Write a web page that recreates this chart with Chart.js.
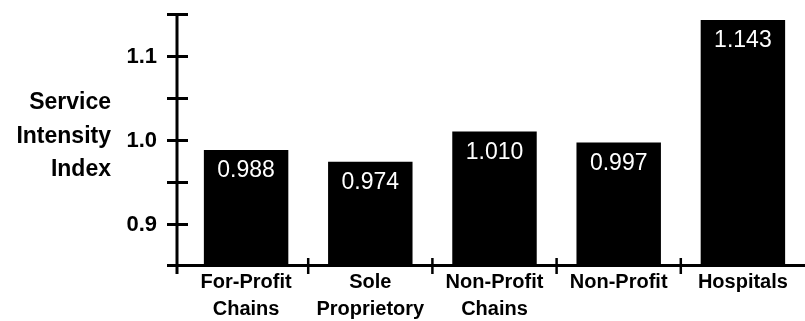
<!DOCTYPE html>
<html>
<head>
<meta charset="utf-8">
<script src="https://cdn.jsdelivr.net/npm/chart.js@4/dist/chart.umd.min.js"></script>
<style>
  html, body { margin: 0; padding: 0; background: #fff; }
  #wrap { width: 805px; height: 321px; }
</style>
</head>
<body>
<div id="wrap"><canvas id="c" width="805" height="321"></canvas></div>
<script>
const categories = [
  ["For-Profit", "Chains"],
  ["Sole", "Proprietory"],
  ["Non-Profit", "Chains"],
  ["Non-Profit"],
  ["Hospitals"]
];
const values = [0.988, 0.974, 1.010, 0.997, 1.143];
const valueLabels = ["0.988", "0.974", "1.010", "0.997", "1.143"];
const yTickLabels = [0.9, 1.0, 1.1];
const yTitleLines = ["Service", "Intensity", "Index"];

const FONT = '"Liberation Sans", Arial, sans-serif';

const axesPlugin = {
  id: 'axesPlugin',
  afterDatasetsDraw(chart) {
    const ctx = chart.ctx;
    const ca = chart.chartArea;
    const y = chart.scales.y;
    const x = chart.scales.x;
    const ax = ca.left - 7;
    ctx.save();
    ctx.strokeStyle = '#000';
    ctx.fillStyle = '#000';
    ctx.lineCap = 'butt';
    // y axis line
    ctx.lineWidth = 3;
    ctx.beginPath();
    ctx.moveTo(ax, y.getPixelForValue(y.max) + 1);
    ctx.lineTo(ax, ca.bottom + 8);
    ctx.stroke();
    // y ticks (crossing)
    y.ticks.forEach(t => {
      if (t.value <= y.min + 1e-9) return;
      const py = Math.round(y.getPixelForValue(t.value)) + 0.5;
      ctx.beginPath();
      ctx.moveTo(ax - 10, py);
      ctx.lineTo(ax + 11, py);
      ctx.stroke();
    });
    // y tick labels
    ctx.font = 'bold 22px ' + FONT;
    ctx.textAlign = 'right';
    ctx.textBaseline = 'middle';
    yTickLabels.forEach(v => {
      ctx.fillText(v.toFixed(1), 157, y.getPixelForValue(v) + 1);
    });
    // x axis line
    const by = ca.bottom - 0.5;
    ctx.beginPath();
    ctx.moveTo(ax - 10, by);
    ctx.lineTo(ca.right, by);
    ctx.stroke();
    // category dividers
    ctx.lineWidth = 2.5;
    for (let i = 0; i < categories.length - 1; i++) {
      const px = (x.getPixelForTick(i) + x.getPixelForTick(i + 1)) / 2;
      ctx.beginPath();
      ctx.moveTo(px, ca.bottom - 8);
      ctx.lineTo(px, ca.bottom + 8);
      ctx.stroke();
    }
    // value labels inside bars
    ctx.fillStyle = '#fff';
    ctx.font = '23px ' + FONT;
    ctx.textAlign = 'center';
    ctx.textBaseline = 'middle';
    const meta = chart.getDatasetMeta(0);
    meta.data.forEach((bar, i) => {
      ctx.fillText(valueLabels[i], bar.x, bar.y + 21);
    });
    // y title
    ctx.fillStyle = '#000';
    ctx.font = 'bold 23px ' + FONT;
    ctx.textAlign = 'right';
    const centers = [103, 137, 170];
    yTitleLines.forEach((s, i) => ctx.fillText(s, 111, centers[i]));
    ctx.restore();
  }
};

new Chart(document.getElementById('c'), {
  type: 'bar',
  data: {
    labels: categories,
    datasets: [{
      data: values,
      backgroundColor: '#000',
      borderWidth: 0,
      barPercentage: 0.68,
      categoryPercentage: 1.0
    }]
  },
  options: {
    responsive: false,
    animation: false,
    devicePixelRatio: 1,
    layout: { padding: { top: 14, right: 0, left: 0, bottom: 0 } },
    plugins: { legend: { display: false }, tooltip: { enabled: false } },
    scales: {
      x: {
        grid: { display: false, drawTicks: false },
        border: { display: false },
        ticks: {
          color: '#000',
          font: { family: FONT, size: 20, weight: 'bold', lineHeight: 27 / 20 },
          padding: 3,
          maxRotation: 0,
          autoSkip: false
        },
        afterFit(scale) { scale.height = 55; }
      },
      y: {
        min: 0.85,
        max: 1.15,
        grid: { display: false, drawTicks: false },
        border: { display: false },
        ticks: { display: false, stepSize: 0.05 },
        afterFit(scale) { scale.width = 184; }
      }
    }
  },
  plugins: [axesPlugin]
});
</script>
</body>
</html>
